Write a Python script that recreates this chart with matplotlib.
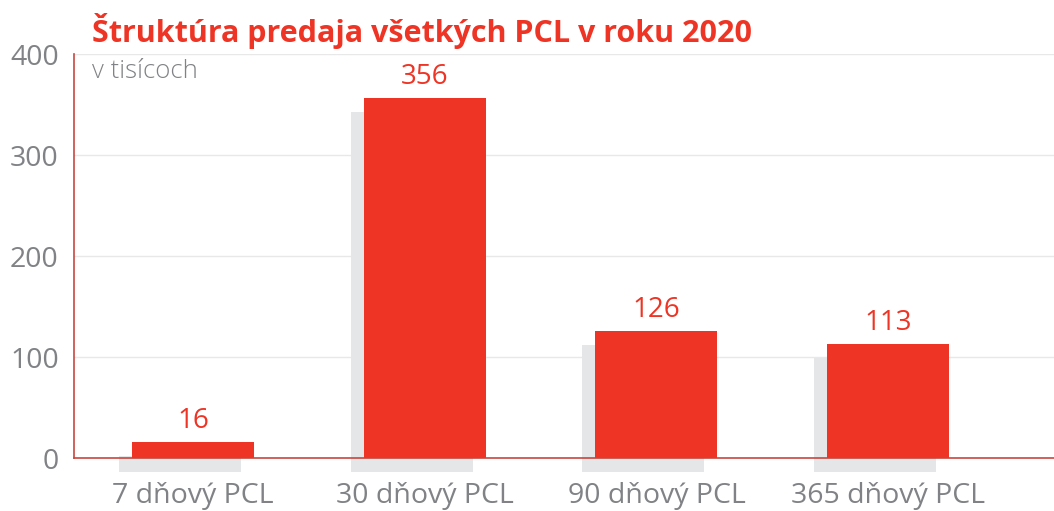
import matplotlib.pyplot as plt
import matplotlib.transforms as mtransforms

categories = ["7 dňový PCL", "30 dňový PCL", "90 dňový PCL", "365 dňový PCL"]
values = [16, 356, 126, 113]
yticks = [0, 100, 200, 300, 400]

RED = "#ee3424"
GRAY = "#808285"
SHADOW = "#e5e6e7"

plt.rcParams['font.family'] = ['Open Sans', 'DejaVu Sans']

W, H = 1054, 511
fig = plt.figure(figsize=(W / 100, H / 100), dpi=100)
ax = fig.add_axes([74 / W, (H - 458) / H, 980 / W, (458 - 54) / H])

x = list(range(len(categories)))
bar_w = 0.527

# drop shadow: same bars shifted left/down by a few pixels
shadow_tr = mtransforms.offset_copy(ax.transData, fig=fig, x=-13, y=-14, units='dots')
ax.bar(x, values, width=bar_w, color=SHADOW, transform=shadow_tr, zorder=1, clip_on=False)
ax.bar(x, values, width=bar_w, color=RED, zorder=3)

for xi, v in zip(x, values):
    ax.annotate(str(v), (xi, v), xytext=(0, 5), textcoords='offset points',
                ha='center', va='bottom', color=RED, fontsize=20)

ax.set_xlim(-0.514, 3.716)
ax.set_ylim(0, 400)
ax.set_yticks(yticks)
ax.set_xticks(x)
ax.set_xticklabels(categories)
ax.tick_params(axis='y', length=0, pad=11, labelcolor=GRAY, labelsize=20.5)
ax.tick_params(axis='x', length=0, pad=17, labelcolor=GRAY, labelsize=20.5)

ax.grid(axis='y', color='#e8e8e8', linewidth=1, zorder=0)
ax.set_axisbelow(True)
for s in ['top', 'right']:
    ax.spines[s].set_visible(False)
for s in ['left', 'bottom']:
    ax.spines[s].set_color('#c9473d')
    ax.spines[s].set_linewidth(1.2)
    ax.spines[s].set_zorder(2)

fig.text(92 / W, 1 - 42 / H, "Štruktúra predaja všetkých PCL v roku 2020",
         color=RED, fontsize=22, fontweight='bold', ha='left', va='baseline')
fig.text(92 / W, 1 - 78 / H, "v tisícoch", color=GRAY, fontsize=18.5,
         fontweight='light', ha='left', va='baseline')

fig.savefig("out.png", dpi=100)
